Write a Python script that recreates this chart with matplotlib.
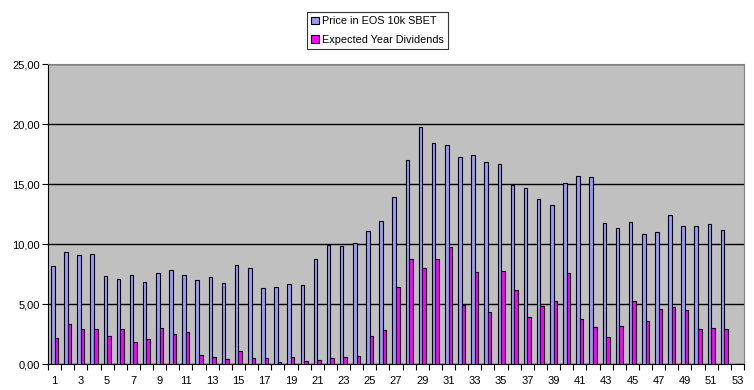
import matplotlib.pyplot as plt
import numpy as np

plt.rcParams['font.family'] = ['Liberation Sans', 'DejaVu Sans']

categories = list(range(1, 54))  # 53 slots, last one empty

price = [8.17, 9.33, 9.08, 9.17, 7.33, 7.08, 7.42, 6.83, 7.58, 7.83,
         7.42, 7.00, 7.25, 6.75, 8.25, 8.00, 6.33, 6.42, 6.67, 6.58,
         8.75, 9.92, 9.83, 10.08, 11.08, 11.92, 13.92, 17.00, 19.75, 18.42,
         18.25, 17.25, 17.42, 16.83, 16.67, 14.92, 14.67, 13.75, 13.25, 15.08,
         15.67, 15.58, 11.75, 11.33, 11.83, 10.83, 11.00, 12.42, 11.50, 11.50,
         11.67, 11.17]

dividends = [2.17, 3.33, 2.92, 2.92, 2.33, 2.92, 1.83, 2.08, 3.00, 2.50,
             2.67, 0.75, 0.58, 0.42, 1.08, 0.50, 0.50, 0.17, 0.58, 0.25,
             0.33, 0.50, 0.58, 0.67, 2.33, 2.83, 6.42, 8.75, 8.00, 8.75,
             9.75, 4.95, 7.67, 4.33, 7.75, 6.17, 3.92, 4.83, 5.25, 7.58,
             3.75, 3.08, 2.25, 3.17, 5.25, 3.58, 4.58, 4.75, 4.50, 2.92,
             3.00, 2.92]

fig = plt.figure(figsize=(7.54, 3.90), dpi=100)
ax = fig.add_axes([48 / 754, 26 / 390, 696 / 754, 300 / 390])
ax.set_facecolor('#C0C0C0')

x = np.arange(1, len(price) + 1)
w = 0.27
ax.bar(x - w / 2, price, width=w, color='#9999FF', edgecolor='black',
       linewidth=0.8, label='Price in EOS 10k SBET', zorder=3)
ax.bar(x + w / 2, dividends, width=w, color='#FF00FF', edgecolor='black',
       linewidth=0.8, label='Expected Year Dividends', zorder=3)

ax.set_xlim(0.5, len(categories) + 0.5)
ax.set_ylim(0, 25)
ax.set_yticks(np.arange(0, 26, 5))
ax.set_yticklabels([f"{v:.2f}".replace('.', ',') for v in np.arange(0, 26, 5)])
ax.yaxis.grid(True, color='black', linewidth=1.0, zorder=1)

odd = [c for c in categories if c % 2 == 1]
ax.set_xticks(odd)
ax.set_xticklabels([str(c) for c in odd])
ax.set_xticks(np.arange(0.5, len(categories) + 1, 1), minor=True)
ax.tick_params(axis='x', which='major', length=0, pad=9, labelsize=8)
ax.tick_params(axis='x', which='minor', length=4, width=0.8, direction='out')
ax.tick_params(axis='y', length=4, width=0.8, labelsize=8, pad=2)

ax.spines['left'].set_color('black')
ax.spines['bottom'].set_color('black')
ax.spines['top'].set_color('#808080')
ax.spines['right'].set_color('#808080')

leg = ax.legend(loc='upper left', bbox_to_anchor=(307 / 754, 378 / 390),
                bbox_transform=fig.transFigure, fontsize=7.8, frameon=True,
                fancybox=False, edgecolor='black', handlelength=0.7,
                handleheight=0.7, handletextpad=0.3, borderpad=0.4,
                labelspacing=0.8, borderaxespad=0)
leg.get_frame().set_linewidth(0.8)

fig.savefig('out.png', dpi=100, facecolor='white')
